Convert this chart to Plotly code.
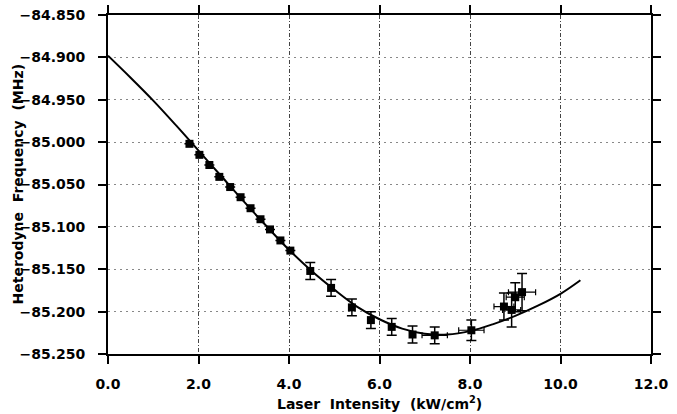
import plotly.graph_objects as go

# Measured data points: laser intensity (kW/cm^2) vs heterodyne frequency (MHz)
intensity = [1.80, 2.02, 2.24, 2.46, 2.70, 2.93, 3.15, 3.37, 3.58, 3.81, 4.03,
             4.47, 4.93, 5.39, 5.81, 6.27, 6.73, 7.22, 8.03, 8.75, 8.92, 9.00, 9.15]
frequency = [-85.002, -85.015, -85.027, -85.041, -85.053, -85.065, -85.078, -85.091,
             -85.103, -85.116, -85.128, -85.152, -85.172, -85.195, -85.210, -85.218,
             -85.227, -85.228, -85.222, -85.194, -85.198, -85.183, -85.177]
freq_err = [0, 0, 0, 0, 0, 0, 0, 0, 0, 0, 0,
            0.010, 0.010, 0.010, 0.010, 0.010, 0.010, 0.010, 0.012, 0.016, 0.020, 0.017, 0.022]
int_err = [0, 0, 0, 0, 0, 0, 0, 0, 0, 0, 0,
           0, 0, 0, 0, 0, 0, 0.28, 0.28, 0.22, 0.20, 0.20, 0.30]

# Fitted curve
fit_x = [0.0, 0.5, 1.0, 1.5, 2.0, 2.5, 3.0, 3.5, 4.0, 4.5, 5.0, 5.5, 6.0, 6.5,
         7.0, 7.5, 8.0, 8.5, 9.0, 9.5, 10.0, 10.44]
fit_y = [-84.898, -84.924, -84.951, -84.980, -85.010, -85.040, -85.070, -85.099,
         -85.127, -85.152, -85.174, -85.194, -85.209, -85.220, -85.226, -85.227,
         -85.223, -85.215, -85.205, -85.193, -85.179, -85.163]

x_ticks = [0, 2, 4, 6, 8, 10, 12]
y_ticks = [-85.25, -85.20, -85.15, -85.10, -85.05, -85.00, -84.95, -84.90, -84.85]

x_title = "Laser\u00a0\u00a0Intensity\u00a0\u00a0(kW/cm<sup>2</sup>)"
y_title = "Heterodyne\u00a0\u00a0Frequency\u00a0\u00a0(MHz)"

FONT = "DejaVu Sans"

fig = go.Figure()
fig.add_trace(go.Scatter(
    x=fit_x, y=fit_y, mode="lines",
    line=dict(color="black", width=2, shape="spline"),
    showlegend=False, hoverinfo="skip"))
fig.add_trace(go.Scatter(
    x=intensity, y=frequency, mode="markers",
    marker=dict(symbol="square", size=8, color="black"),
    error_y=dict(type="data", array=freq_err, color="black", thickness=1.5, width=5),
    error_x=dict(type="data", array=int_err, color="black", thickness=1.2, width=3),
    showlegend=False))

tickfont = dict(family=FONT, size=14, color="black", weight="bold")
titlefont = dict(family=FONT, size=14, color="black", weight="bold")

W, H = 677, 414
ML, MR, MT, MB = 108, 26, 15, 60
plot_w = W - ML - MR
plot_h = H - MT - MB

fig.update_layout(
    width=W, height=H,
    margin=dict(l=ML, r=MR, t=MT, b=MB, autoexpand=False),
    paper_bgcolor="white", plot_bgcolor="white",
    showlegend=False,
    xaxis=dict(
        range=[0, 12], tickvals=x_ticks, tickformat=".1f",
        ticks="outside", ticklen=8, tickwidth=1.5, tickcolor="black",
        ticklabelstandoff=8, ticklabeloverflow="allow",
        showline=True, linewidth=2, linecolor="black", mirror="ticks",
        showgrid=True, gridcolor="#444", gridwidth=1, griddash="4px,2px,1px,2px",
        zeroline=False, tickfont=tickfont, automargin=False),
    xaxis2=dict(
        overlaying="x", matches="x", anchor="y", side="bottom",
        range=[0, 12], tickvals=x_ticks,
        ticks="inside", ticklen=8, tickwidth=1.5, tickcolor="black",
        showticklabels=False, showline=False, mirror="ticks",
        minor=dict(ticks="inside", dtick=1, tick0=0, ticklen=4, tickwidth=1, tickcolor="black"),
        showgrid=False, zeroline=False),
    yaxis=dict(
        range=[-85.25, -84.85], tickvals=y_ticks, tickformat=".3f",
        ticks="outside", ticklen=8, tickwidth=1.5, tickcolor="black",
        ticklabelstandoff=10, ticklabeloverflow="allow",
        showline=True, linewidth=2, linecolor="black", mirror="ticks",
        showgrid=True, gridcolor="#888", gridwidth=1, griddash="2px,4px",
        zeroline=False, tickfont=tickfont, automargin=False),
    yaxis2=dict(
        overlaying="y", matches="y", anchor="x", side="left",
        range=[-85.25, -84.85], tickvals=y_ticks,
        ticks="inside", ticklen=8, tickwidth=1.5, tickcolor="black",
        showticklabels=False, showline=False, mirror="ticks",
        minor=dict(ticks="inside", dtick=0.01, tick0=-85.25, ticklen=4, tickwidth=1, tickcolor="black"),
        showgrid=False, zeroline=False),
    annotations=[
        dict(text=x_title, xref="paper", yref="paper",
             x=0.5, y=(MT + plot_h - 403) / plot_h,
             xanchor="center", yanchor="middle", showarrow=False, font=titlefont),
        dict(text=y_title, xref="paper", yref="paper",
             x=(17 - ML) / plot_w, y=0.5, textangle=-90,
             xanchor="center", yanchor="middle", showarrow=False, font=titlefont),
    ],
)

fig.write_html(
    "out.html",
    config={"displayModeBar": False},
    post_script="document.body.style.margin='0';document.body.style.overflow='hidden';",
)
